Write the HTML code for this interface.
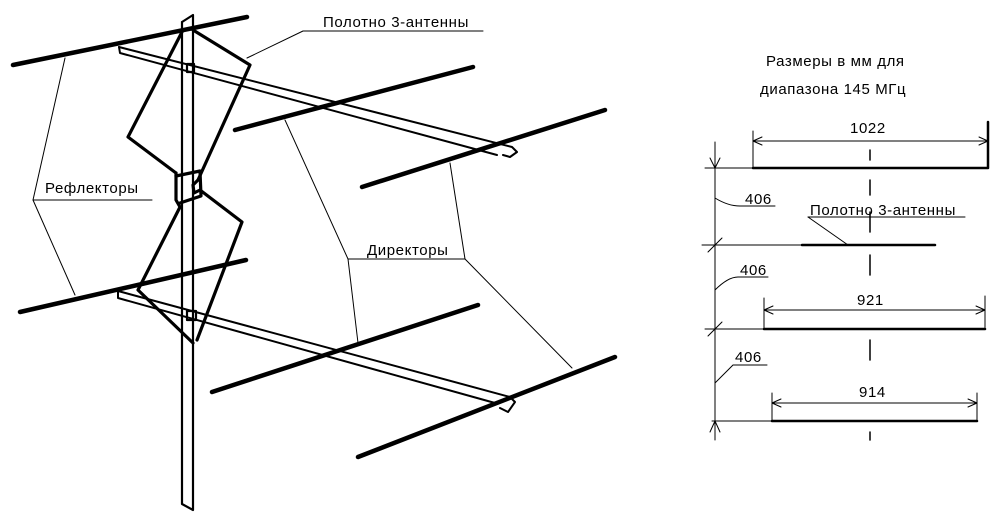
<!DOCTYPE html>
<html><head><meta charset="utf-8"><style>
html,body{margin:0;padding:0;background:#fff;}
svg{display:block;}
text{font-family:"Liberation Sans","DejaVu Sans",sans-serif;fill:#000;}
</style></head><body>
<svg width="1000" height="524" viewBox="0 0 1000 524" xmlns="http://www.w3.org/2000/svg">
<g stroke="#000" fill="none" stroke-linecap="round" stroke-linejoin="round">
<g stroke-width="2">
<path d="M119,47 L512,147 L517,152 L510,157 L503,155"/>
<path d="M119,47 L120,53 L497,155"/>
<path d="M118,291 L510,397 L515,402 L508,412 L500,408"/>
<path d="M118,291 L118,298 L495,403"/>
</g>
<g stroke-width="2.2">
<path d="M182,22 L182,504 L193,510 L193,15 L182,22"/>
<path d="M187,64 L194,64 L194,72 L187,72 Z"/>
<path d="M187,311 L196,311 L196,320 L187,320 Z"/>
</g>
<g stroke-width="4.5">
<path d="M13,65 L247,17"/>
<path d="M235,130 L473,67"/>
<path d="M362,187 L605,110"/>
<path d="M20,312 L246,260"/>
<path d="M212,392 L478,305"/>
<path d="M358,457 L615,357"/>
</g>
<g stroke-width="3.2">
<path d="M183,30 L128,137 L176,173"/>
<path d="M193,30 L250,65 L198,180"/>
<path d="M176,173 L176,200 L180,207 L138,290 L193,343"/>
<path d="M198,180 L193,185 L194,193 L200,190 L242,222 L197,340"/>
<path d="M176,176 L200,171 L201,196 L180,203"/>
</g>
<g stroke-width="1">
<path d="M247,58 L303,31 L483,31"/>
<path d="M65,58 L33,200 L75,295"/>
<path d="M33,200 L152,200"/>
<path d="M285,120 L348,259 L358,343"/>
<path d="M348,259 L465,259 L450,163"/>
<path d="M465,259 L572,368"/>
</g>
<g stroke-width="1">
<path d="M715,142 L715,440"/>
<path d="M705,168 L753,168"/>
<path d="M702,245 L802,245"/>
<path d="M705,329 L764,329"/>
<path d="M712,421 L772,421"/>
<path d="M753,131 L753,168"/>
<path d="M753,141 L988,141"/>
<path d="M764,298 L764,329"/>
<path d="M764,310 L985,310"/>
<path d="M985,296 L985,329"/>
<path d="M772,393 L772,421"/>
<path d="M772,403 L977,403"/>
<path d="M977,393 L977,421"/>
<path d="M708,252 L722,238"/>
<path d="M708,336 L722,322"/>
<path d="M710,158 L715,168 L720,158"/>
<path d="M710,432 L715,421 L720,432"/>
<path d="M753,141 L762,137 M753,141 L762,145"/>
<path d="M988,141 L979,137 M988,141 L979,145"/>
<path d="M764,310 L773,306 M764,310 L773,314"/>
<path d="M985,310 L976,306 M985,310 L976,314"/>
<path d="M772,403 L781,399 M772,403 L781,407"/>
<path d="M977,403 L968,399 M977,403 L968,407"/>
<path d="M715,198 Q728,206 740,206 L775,206"/>
<path d="M715,290 Q728,277 738,277 L768,277"/>
<path d="M715,383 L733,365 L767,365"/>
<path d="M808,217 L965,217"/>
<path d="M808,217 L848,245"/>
<path d="M870,150 L870,160 M870,180 L870,195 M870,212 L870,232 M870,255 L870,275 M870,340 L870,360 M870,432 L870,440" stroke-width="1.5"/>
</g>
<g stroke-width="2.5">
<path d="M753,168 L988,168 L988,122"/>
<path d="M802,245 L935,245"/>
<path d="M764,329 L985,329"/>
<path d="M772,421 L977,421"/>
</g>
</g>
<g font-size="15" letter-spacing="0.6">
<text x="323" y="27">Полотно 3-антенны</text>
<text x="45" y="193">Рефлекторы</text>
<text x="367" y="255">Директоры</text>
<text x="766" y="66">Размеры  в мм для</text>
<text x="760" y="94">диапазона  145 МГц</text>
<text x="850" y="133">1022</text>
<text x="745" y="204">406</text>
<text x="740" y="275">406</text>
<text x="735" y="362">406</text>
<text x="810" y="215">Полотно 3-антенны</text>
<text x="857" y="305">921</text>
<text x="859" y="397">914</text>
</g>
</svg>
</body></html>
